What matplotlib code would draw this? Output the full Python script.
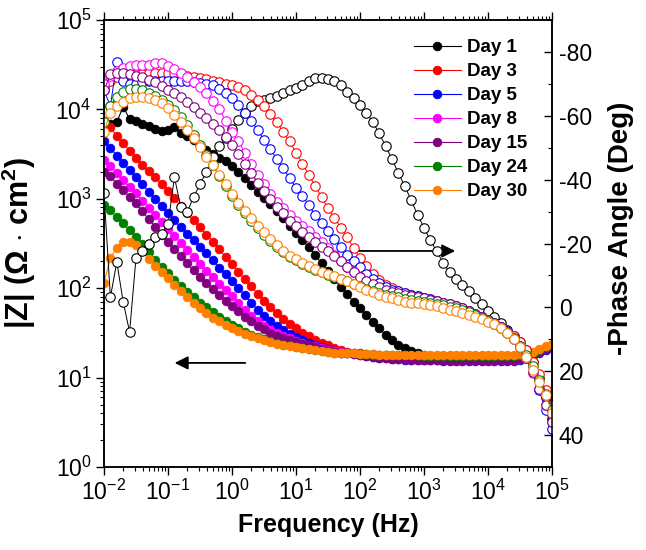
import numpy as np
import matplotlib
matplotlib.use("Agg")
import matplotlib.pyplot as plt
from matplotlib.ticker import LogLocator, MultipleLocator, NullFormatter, FixedLocator

plt.rcParams['font.family'] = ['Liberation Sans', 'DejaVu Sans']
plt.rcParams['mathtext.fontset'] = 'custom'
plt.rcParams['mathtext.rm'] = 'Liberation Sans'
plt.rcParams['mathtext.it'] = 'Liberation Sans:italic'
plt.rcParams['mathtext.bf'] = 'Liberation Sans:bold'
plt.rcParams['axes.unicode_minus'] = False

# measurement grid: 10 points per decade, 1e-2 .. 1e5 Hz
freq = np.logspace(-2, 5, 71)

days = ["Day 1", "Day 3", "Day 5", "Day 8", "Day 15", "Day 24", "Day 30"]
colors = ["#000000", "#FF0000", "#0000FF", "#FF00FF", "#800080", "#008000", "#FF8000"]

# log10 |Z| (Ohm cm^2)
day1_logZ = [3.82, 3.84, 3.86, 4.03, 3.89, 3.87, 3.84, 3.81, 3.78, 3.76,
             3.77, 3.80, 3.74, 3.70, 3.66, 3.59, 3.55, 3.50, 3.46, 3.42,
             3.37, 3.30, 3.23, 3.15, 3.08, 3.01, 2.94, 2.86, 2.78, 2.70,
             2.62, 2.54, 2.46, 2.37, 2.28, 2.19, 2.10, 2.01, 1.93, 1.85,
             1.78, 1.70, 1.62, 1.55, 1.48, 1.42, 1.37, 1.33, 1.30, 1.27,
             1.25, 1.24, 1.23, 1.22, 1.22, 1.21, 1.21, 1.21, 1.20, 1.20,
             1.20, 1.20, 1.20, 1.20, 1.21, 1.21, 1.22, 1.25, 1.29, 1.32,
             1.35]
day3_logZ = [3.86, 3.80, 3.70, 3.62, 3.54, 3.46, 3.38, 3.31, 3.24, 3.17,
             3.09, 3.01, 2.92, 2.84, 2.76, 2.68, 2.60, 2.52, 2.44, 2.35,
             2.27, 2.18, 2.10, 2.02, 1.94, 1.86, 1.79, 1.72, 1.66, 1.60,
             1.55, 1.50, 1.46, 1.42, 1.39, 1.36, 1.33, 1.31, 1.29, 1.28,
             1.27, 1.26, 1.26, 1.25, 1.25, 1.24, 1.24, 1.24, 1.24, 1.24,
             1.24, 1.24, 1.24, 1.24, 1.24, 1.24, 1.24, 1.24, 1.24, 1.24,
             1.24, 1.24, 1.24, 1.24, 1.24, 1.24, 1.25, 1.27, 1.30, 1.33,
             1.36]
day5_logZ = [3.65, 3.57, 3.48, 3.40, 3.32, 3.24, 3.16, 3.08, 3.00, 2.92,
             2.84, 2.76, 2.68, 2.61, 2.54, 2.46, 2.39, 2.31, 2.23, 2.16,
             2.08, 2.00, 1.92, 1.84, 1.76, 1.69, 1.63, 1.58, 1.53, 1.49,
             1.45, 1.42, 1.39, 1.36, 1.34, 1.32, 1.30, 1.28, 1.27, 1.26,
             1.25, 1.24, 1.23, 1.22, 1.22, 1.21, 1.21, 1.20, 1.20, 1.20,
             1.20, 1.20, 1.20, 1.19, 1.19, 1.19, 1.19, 1.19, 1.19, 1.19,
             1.19, 1.19, 1.19, 1.19, 1.19, 1.20, 1.22, 1.25, 1.28, 1.31,
             1.34]
day8_logZ = [3.43, 3.37, 3.29, 3.21, 3.13, 3.06, 2.98, 2.90, 2.82, 2.74,
             2.66, 2.58, 2.51, 2.43, 2.35, 2.27, 2.19, 2.12, 2.05, 1.98,
             1.91, 1.83, 1.76, 1.69, 1.63, 1.58, 1.53, 1.50, 1.47, 1.44,
             1.41, 1.39, 1.37, 1.35, 1.33, 1.31, 1.30, 1.29, 1.28, 1.27,
             1.26, 1.25, 1.24, 1.23, 1.22, 1.22, 1.21, 1.21, 1.21, 1.21,
             1.20, 1.20, 1.20, 1.20, 1.20, 1.20, 1.20, 1.20, 1.20, 1.20,
             1.20, 1.20, 1.20, 1.20, 1.20, 1.21, 1.23, 1.26, 1.29, 1.32,
             1.35]
day15_logZ = [3.30, 3.25, 3.17, 3.10, 3.02, 2.95, 2.86, 2.77, 2.69, 2.60,
              2.52, 2.44, 2.36, 2.28, 2.20, 2.13, 2.06, 1.99, 1.92, 1.86,
              1.80, 1.74, 1.68, 1.63, 1.58, 1.54, 1.50, 1.47, 1.44, 1.42,
              1.40, 1.38, 1.36, 1.34, 1.32, 1.30, 1.29, 1.28, 1.27, 1.26,
              1.25, 1.24, 1.23, 1.22, 1.22, 1.21, 1.21, 1.21, 1.20, 1.20,
              1.20, 1.20, 1.20, 1.20, 1.20, 1.20, 1.20, 1.20, 1.20, 1.20,
              1.20, 1.20, 1.20, 1.20, 1.20, 1.21, 1.23, 1.26, 1.29, 1.32,
              1.35]
day24_logZ = [2.93, 2.87, 2.80, 2.73, 2.65, 2.57, 2.50, 2.41, 2.32, 2.24,
              2.17, 2.09, 2.02, 1.96, 1.90, 1.84, 1.79, 1.73, 1.68, 1.63,
              1.59, 1.55, 1.51, 1.48, 1.45, 1.43, 1.41, 1.39, 1.37, 1.36,
              1.34, 1.33, 1.32, 1.31, 1.30, 1.29, 1.28, 1.28, 1.27, 1.27,
              1.26, 1.26, 1.25, 1.25, 1.25, 1.25, 1.25, 1.25, 1.25, 1.25,
              1.24, 1.24, 1.24, 1.24, 1.24, 1.24, 1.24, 1.24, 1.24, 1.24,
              1.24, 1.24, 1.24, 1.24, 1.24, 1.25, 1.26, 1.28, 1.31, 1.34,
              1.37]
day30_logZ = [2.06, 2.34, 2.45, 2.52, 2.52, 2.48, 2.42, 2.33, 2.25, 2.18,
              2.11, 2.04, 1.97, 1.90, 1.84, 1.78, 1.72, 1.67, 1.63, 1.59,
              1.55, 1.52, 1.49, 1.46, 1.44, 1.42, 1.40, 1.38, 1.37, 1.35,
              1.34, 1.33, 1.32, 1.31, 1.30, 1.29, 1.28, 1.28, 1.27, 1.27,
              1.26, 1.26, 1.26, 1.25, 1.25, 1.25, 1.25, 1.25, 1.25, 1.25,
              1.25, 1.25, 1.25, 1.25, 1.25, 1.25, 1.25, 1.25, 1.25, 1.25,
              1.25, 1.25, 1.25, 1.25, 1.25, 1.26, 1.27, 1.29, 1.32, 1.35,
              1.38]

# phase angle values as shown on the right axis (deg)
day1_phase = [-35.8, -3.2, -14.2, -1.7, 7.7, -15.5, -17.5, -19.8, -22, -23,
              -26, -40.8, -31.4, -29.9, -34.6, -38.5, -42.5, -47, -50.5, -53,
              -56, -58.7, -61, -63, -64.5, -65, -65.5, -66.3, -67.2, -68,
              -68.8, -69.7, -71, -71.7, -71.9, -71.6, -70.8, -69.5, -67.5, -65.5,
              -63.5, -61, -58, -54.5, -50.5, -46.5, -42, -38, -33.5, -29,
              -25, -21, -17.5, -14, -11, -8.8, -7, -5, -3, -1,
              1, 3, 5, 7, 9, 11, 13.5, 17, 22, 28,
              35]
day3_phase = [-69, -71, -72, -72.5, -72.8, -73, -73.2, -73.3, -73.4, -73.4,
              -73.4, -73.3, -73, -72.6, -72.2, -71.8, -71.4, -71, -70.5, -70,
              -69.5, -69, -68, -66.5, -65, -63, -60.5, -58, -55, -52,
              -48.5, -45, -41.5, -38, -34.5, -31, -28, -25, -22, -18.5,
              -15.5, -13, -10.5, -8.5, -7, -6, -5, -4.5, -4, -3.5,
              -3, -2.5, -2, -1.5, -1, -0.3, 0.3, 1, 2, 3,
              4, 5, 6, 7.3, 9, 11, 13.5, 17, 21, 26,
              31]
day5_phase = [-68, -63, -77, -71, -70, -70, -70.5, -71, -71, -71,
              -71, -71, -71, -70.8, -70.5, -70.3, -70, -69.5, -68.5, -67,
              -65.5, -63.5, -61, -58.5, -55.5, -52.5, -49.5, -46.5, -43.5, -40.5,
              -37.5, -35, -32, -29, -26.5, -24, -21.5, -19, -16.5, -14.5,
              -12.5, -10.5, -9, -7.5, -6.5, -5.5, -5, -4.5, -4, -3.5,
              -3, -2.5, -2, -1.5, -1, -0.5, 0.3, 1, 2, 3,
              4, 5, 6.2, 7.5, 9.5, 12, 15.5, 20, 26, 32,
              38]
day8_phase = [-70, -72.5, -74, -75, -75.5, -76, -76, -76, -76.5, -76.5,
              -75.5, -74.5, -73.5, -72, -70.5, -69, -67, -64.5, -62, -58.5,
              -55, -52, -48.5, -45, -41.5, -38.5, -35.5, -33, -31, -29,
              -27, -25.5, -24, -22, -20.5, -18.5, -16.5, -14.5, -12.5, -11,
              -9.5, -8, -7, -6, -5.2, -4.6, -4.1, -3.7, -3.3, -3,
              -2.6, -2.2, -1.8, -1.3, -0.8, -0.2, 0.5, 1.3, 2.2, 3.2,
              4.2, 5.2, 6.5, 8, 10, 12.5, 16, 20.5, 25.5, 30.5,
              36]
day15_phase = [-68, -73, -73.5, -73.3, -73, -72.5, -72, -71.3, -70.5, -69.3,
               -68, -67, -65.8, -64.3, -62.8, -61, -59.3, -57.5, -55.5, -53.5,
               -51, -48, -45, -42, -39, -36.5, -34, -31.5, -29.5, -27,
               -25.5, -23.7, -22, -20.5, -19, -17.5, -16, -14.5, -12.5, -11,
               -9.5, -8.2, -7.2, -6.3, -5.5, -4.9, -4.4, -4, -3.6, -3.2,
               -2.8, -2.4, -2, -1.5, -1, -0.4, 0.3, 1.1, 2, 3,
               4, 5, 6.3, 7.8, 9.8, 12.3, 15.8, 20.3, 25.5, 30.5,
               36]
day24_phase = [-58, -63, -66, -67.5, -68.5, -68.5, -68, -67.2, -66.2, -65,
               -63.5, -61.8, -59.5, -57, -54, -51, -47.8, -44.5, -41.2, -38,
               -35, -32.2, -29.5, -27, -24.8, -22.8, -20.8, -19, -17.3, -15.8,
               -14.7, -13.7, -12.7, -11.8, -11, -10.2, -9.5, -8.8, -8.1, -7.3,
               -6.6, -5.8, -5.2, -4.6, -4, -3.5, -3.1, -2.7, -2.4, -2.1,
               -1.8, -1.5, -1.1, -0.7, -0.2, 0.3, 0.9, 1.6, 2.4, 3.3,
               4.2, 5.2, 6.5, 8, 9.8, 12, 14.8, 18.3, 22.7, 27.2,
               32]
day30_phase = [-55, -61, -63, -64.3, -65.5, -66, -66, -65.6, -65, -64,
               -62.5, -60.3, -58, -55.5, -53, -50.2, -47.2, -44.5, -41.5, -38.5,
               -35.5, -32.8, -30.3, -28, -25.5, -23.5, -21.5, -19.5, -17.5, -16,
               -15, -14, -13, -12, -11.2, -10.5, -9.8, -9, -8.2, -7.2,
               -6.5, -5.5, -4.8, -4, -3.3, -2.8, -2.3, -1.8, -1.5, -1.3,
               -1, -0.7, -0.3, 0.2, 0.7, 1.2, 1.7, 2.3, 3, 3.8,
               4.5, 5.3, 6.5, 8, 10, 12.5, 15.5, 19.5, 23.5, 27.5,
               33]

logZ_all = [day1_logZ, day3_logZ, day5_logZ, day8_logZ, day15_logZ, day24_logZ, day30_logZ]
phase_all = [day1_phase, day3_phase, day5_phase, day8_phase, day15_phase, day24_phase, day30_phase]

W, H = 646, 550
fig = plt.figure(figsize=(W / 100, H / 100), dpi=100)
ax = fig.add_axes([104 / W, 1 - 467 / H, 448 / W, 447 / H])
ax2 = ax.twinx()

handles = []
for day, c, lz in zip(days, colors, logZ_all):
    h, = ax.plot(freq, 10 ** np.array(lz), '-o', color=c, lw=0.8, ms=6.2,
                 mfc=c, mec=c, mew=0.6, label=day)
    handles.append(h)

for day, c, ph in zip(days, colors, phase_all):
    ax2.plot(freq, ph, '-o', color=c, lw=0.7, ms=6.8, mfc='white', mec=c, mew=0.8)

ax.set_xscale('log')
ax.set_yscale('log')
ax.set_xlim(1e-2, 1e5)
ax.set_ylim(1, 1e5)
ax2.set_ylim(50, -90)

ax.xaxis.set_major_locator(LogLocator(base=10, numticks=20))
ax.xaxis.set_minor_locator(LogLocator(base=10, subs=np.arange(2, 10), numticks=100))
ax.xaxis.set_minor_formatter(NullFormatter())
ax.yaxis.set_major_locator(LogLocator(base=10, numticks=20))
ax.yaxis.set_minor_locator(LogLocator(base=10, subs=np.arange(2, 10), numticks=100))
ax.yaxis.set_minor_formatter(NullFormatter())
ax2.yaxis.set_major_locator(FixedLocator([-80, -60, -40, -20, 0, 20, 40]))
ax2.yaxis.set_minor_locator(MultipleLocator(10))

ax.tick_params(axis='both', which='major', labelsize=16.5, direction='out', length=6, width=1, pad=3)
ax.tick_params(axis='both', which='minor', direction='out', length=3, width=0.8)
ax.tick_params(axis='x', which='both', top=True)
ax.tick_params(axis='y', which='both', right=False)
ax2.tick_params(axis='y', which='major', labelsize=16.5, direction='in', length=6, width=1, pad=5)
ax2.tick_params(axis='y', which='minor', direction='in', length=3, width=0.8)

for a in (ax, ax2):
    for s in a.spines.values():
        s.set_linewidth(1.1)

ax.set_xlabel('Frequency (Hz)', fontsize=18, fontweight='bold', labelpad=6)
ax.set_ylabel(r'|Z| ($\mathbf{\Omega}$ $\mathbf{\cdot}$ cm$\mathbf{^2}$)', fontsize=22,
              fontweight='bold', labelpad=0)
ax.yaxis.set_label_coords(-0.148, 0.5)
ax2.set_ylabel('-Phase Angle (Deg)', fontsize=20, fontweight='bold', labelpad=2)
ax2.yaxis.set_label_coords(1.125, 0.535)

ax.annotate('', xy=(0.115, 14.6), xytext=(1.78, 14.6),
            arrowprops=dict(arrowstyle='-|>', color='black', lw=1.3, mutation_scale=20))
ax.annotate('', xy=(3390, 261), xytext=(69.8, 261),
            arrowprops=dict(arrowstyle='-|>', color='black', lw=1.3, mutation_scale=20))

leg = ax2.legend(handles=handles, loc='upper left', bbox_to_anchor=(414 / W, 1 - 39 / H),
                 bbox_transform=fig.transFigure, frameon=False,
                 prop={'weight': 'bold', 'size': 13.5}, handlelength=2.5,
                 handletextpad=0.35, labelspacing=0.37, borderpad=0, borderaxespad=0)

fig.savefig('out.png', dpi=100)
